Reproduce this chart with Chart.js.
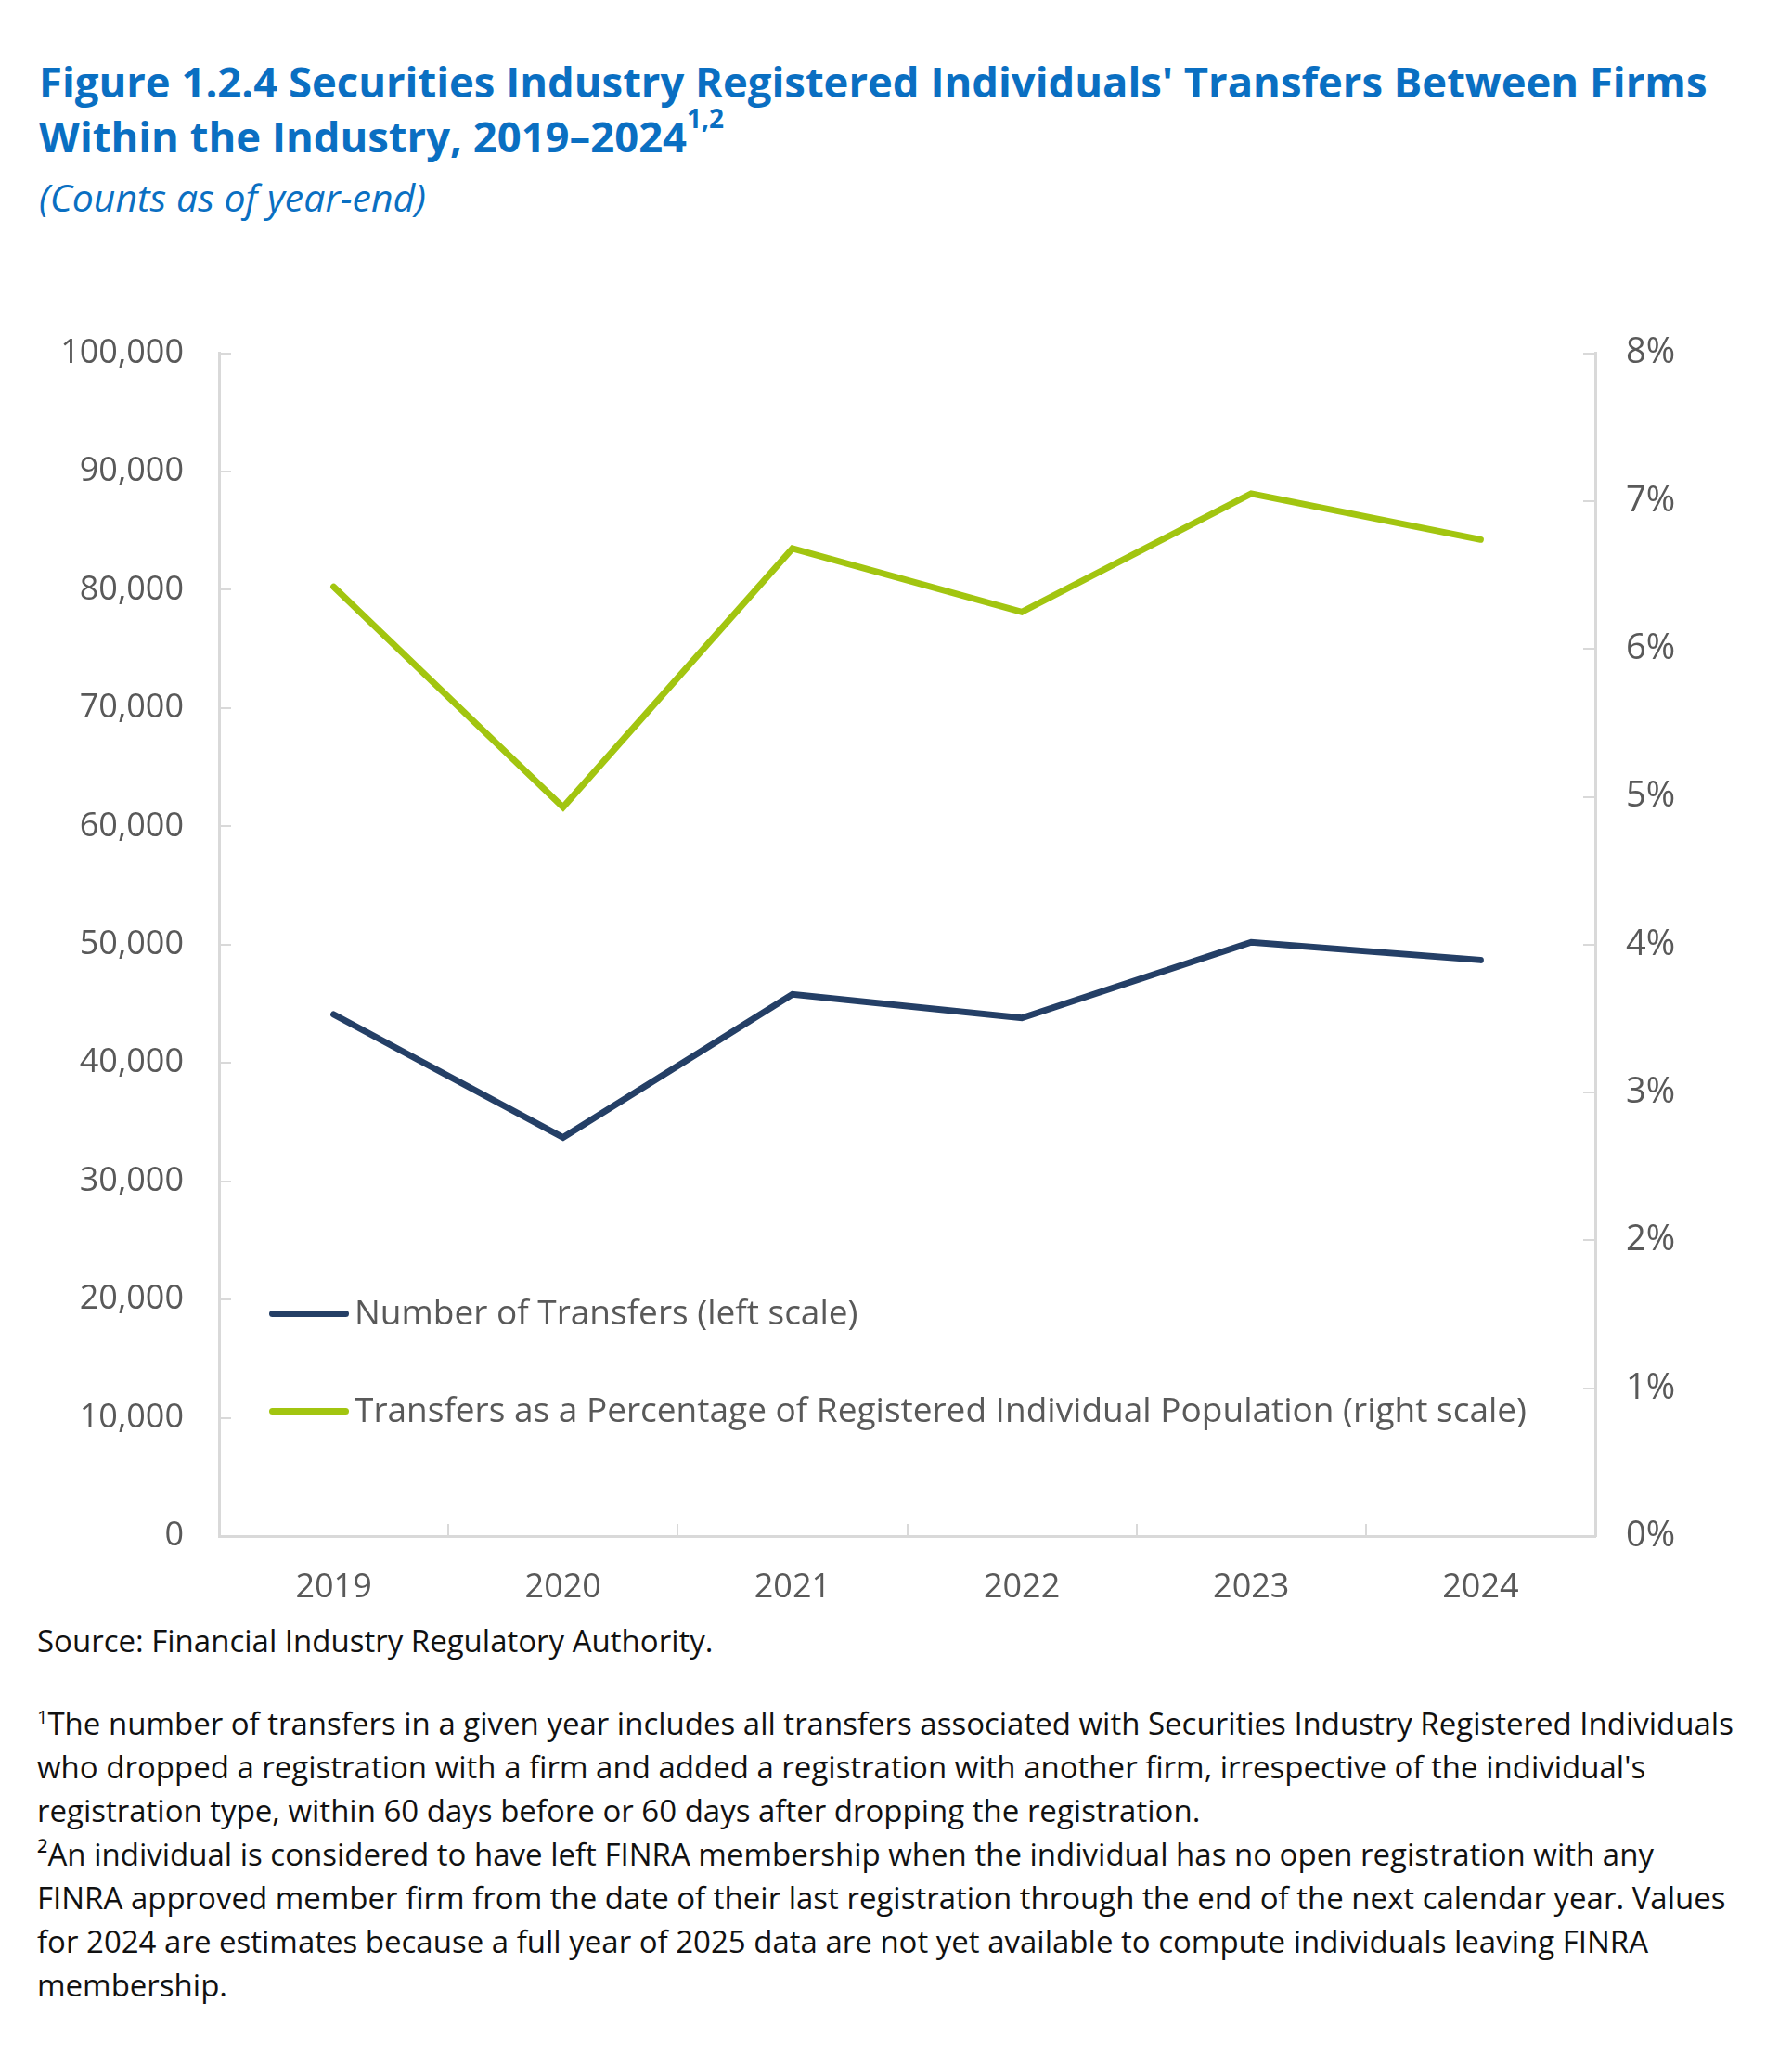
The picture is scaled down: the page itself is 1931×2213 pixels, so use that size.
<!DOCTYPE html>
<html>
<head>
<meta charset="utf-8">
<script src="https://cdn.jsdelivr.net/npm/chart.js@4"></script>
<style>
  body { margin: 0; background: #fff; font-family: "Open Sans", sans-serif; }
  #page { position: relative; width: 1931px; height: 2213px; }
  .title { position: absolute; left: 42px; top: 58px; color: #0a6fc2; font-weight: 700; font-size: 45.4px; line-height: 59px; white-space: nowrap; }
  .title sup { font-size: 28px; line-height: 0; vertical-align: 0; position: relative; top: -26px; }
  .sub { position: absolute; left: 42px; top: 184px; color: #0a6fc2; font-style: italic; font-size: 41px; white-space: nowrap; }
  #wrap { position: absolute; left: 0; top: 308px; width: 1931px; height: 1432px; }
  .legend { position: absolute; left: 290px; color: #595959; font-size: 37px; white-space: nowrap; }
  .legend span.ln { display: inline-block; width: 86px; height: 7px; border-radius: 4px; vertical-align: middle; margin-right: 6px; position: relative; top: -2px; }
  .notes { position: absolute; left: 40px; top: 1744px; font-size: 33px; line-height: 47px; color: #111; white-space: nowrap; }
  .notes sup { font-size: 20px; line-height: 0; }
</style>
</head>
<body>
<div id="page">
  <div class="title">Figure 1.2.4 Securities Industry Registered Individuals' Transfers Between Firms<br>Within the Industry, 2019–2024<sup>1,2</sup></div>
  <div class="sub">(Counts as of year-end)</div>
  <div id="wrap"><canvas id="chart"></canvas></div>
  <div class="legend" style="top:1387px"><span class="ln" style="background:#243f66"></span>Number of Transfers (left scale)</div>
  <div class="legend" style="top:1492px"><span class="ln" style="background:#a2c510"></span>Transfers as a Percentage of Registered Individual Population (right scale)</div>
  <div class="notes">Source: Financial Industry Regulatory Authority.<br><div style="height:42px"></div><sup>1</sup>The number of transfers in a given year includes all transfers associated with Securities Industry Registered Individuals<br>who dropped a registration with a firm and added a registration with another firm, irrespective of the individual's<br>registration type, within 60 days before or 60 days after dropping the registration.<br>²An individual is considered to have left FINRA membership when the individual has no open registration with any<br>FINRA approved member firm from the date of their last registration through the end of the next calendar year. Values<br>for 2024 are estimates because a full year of 2025 data are not yet available to compute individuals leaving FINRA<br>membership.</div>
</div>
<script>
var years = ['2019', '2020', '2021', '2022', '2023', '2024'];
var transfers = [44100, 33700, 45800, 43800, 50200, 48700];
var transferPct = [6.42, 4.93, 6.68, 6.25, 7.05, 6.74];
var leftTicks = [0, 10000, 20000, 30000, 40000, 50000, 60000, 70000, 80000, 90000, 100000];
var rightTicks = [0, 1, 2, 3, 4, 5, 6, 7, 8];

var axisGrey = '#d9d9d9';
var labelGrey = '#595959';

Chart.defaults.font.family = '"Open Sans", sans-serif';
Chart.defaults.font.size = 36;
Chart.defaults.color = labelGrey;

var ctx = document.getElementById('chart');
var chart = new Chart(ctx, {
    type: 'line',
    data: {
        labels: years,
        datasets: [{
            label: 'Number of Transfers (left scale)',
            data: transfers,
            yAxisID: 'y',
            borderColor: '#243f66',
            borderWidth: 7,
            borderCapStyle: 'round',
            pointRadius: 0,
            tension: 0
        }, {
            label: 'Transfers as a Percentage of Registered Individual Population (right scale)',
            data: transferPct,
            yAxisID: 'y1',
            borderColor: '#a2c510',
            borderWidth: 7,
            borderCapStyle: 'round',
            pointRadius: 0,
            tension: 0
        }]
    },
    options: {
        responsive: true,
        maintainAspectRatio: false,
        animation: false,
        layout: { padding: { top: 39, bottom: 0, left: 0, right: 0 } },
        plugins: { legend: { display: false }, tooltip: { enabled: false } },
        scales: {
            x: {
                offset: true,
                grid: { offset: true, drawOnChartArea: false, tickLength: -13, color: axisGrey, lineWidth: 2 },
                border: { color: axisGrey, width: 3 },
                ticks: { padding: 47, color: labelGrey },
                afterFit: function (s) { s.height = 85; }
            },
            y: {
                position: 'left',
                min: 0, max: 100000,
                afterBuildTicks: function (s) { s.ticks = leftTicks.map(function (v) { return { value: v }; }); },
                grid: { drawOnChartArea: false, tickLength: -13, color: axisGrey, lineWidth: 2 },
                border: { color: axisGrey, width: 3 },
                ticks: { padding: 51, color: labelGrey, callback: function (v) { return v.toLocaleString('en-US'); } },
                afterFit: function (s) { s.width = 236; }
            },
            y1: {
                position: 'right',
                min: 0, max: 8,
                afterBuildTicks: function (s) { s.ticks = rightTicks.map(function (v) { return { value: v }; }); },
                grid: { drawOnChartArea: false, tickLength: -13, color: axisGrey, lineWidth: 2 },
                border: { color: axisGrey, width: 3 },
                ticks: { padding: 46, color: labelGrey, font: { size: 38 }, callback: function (v) { return v + '%'; } },
                afterFit: function (s) { s.width = 212; }
            }
        }
    }
});
</script>
</body>
</html>
